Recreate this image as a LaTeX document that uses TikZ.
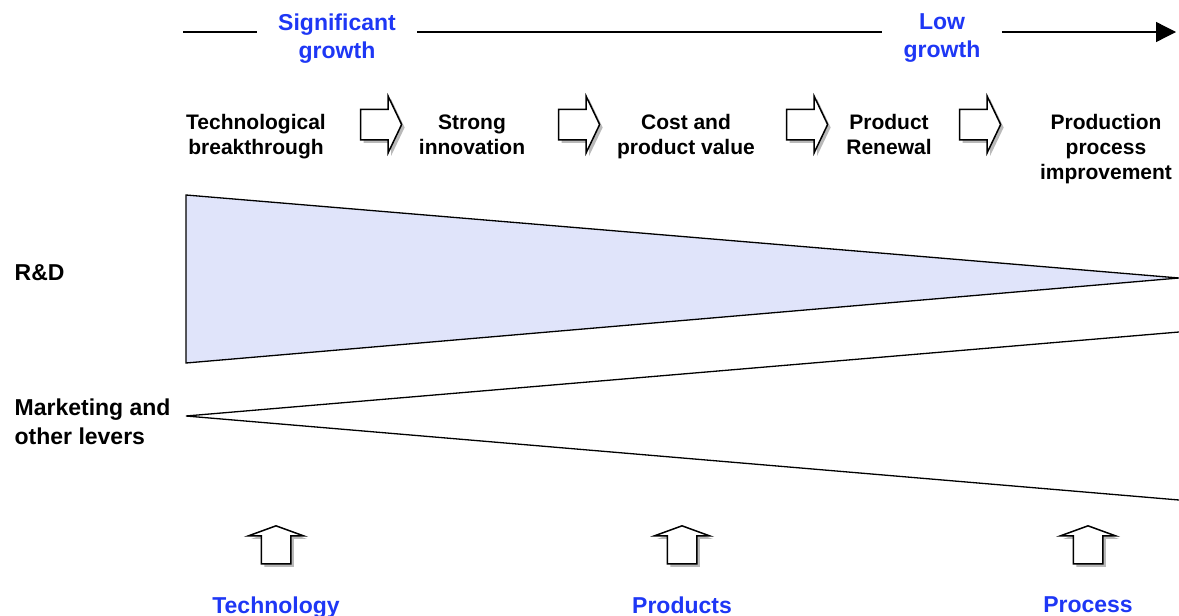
\documentclass[tikz,border=0pt]{standalone}
\usepackage{fontspec}
\setmainfont{Liberation Sans}
\usetikzlibrary{shapes.arrows, shadows, arrows.meta}
\definecolor{levblue}{RGB}{30,55,245}
\definecolor{rdfill}{RGB}{224,228,250}
\tikzset{>={Triangle[length=20pt, width=20pt]}}

\begin{document}
\begin{tikzpicture}[x=1pt, y=-1pt, line width=1.3pt,
  steptext/.style={anchor=north, align=center, inner sep=0pt, font=\fontsize{21}{25}\selectfont\bfseries},
  bluetext/.style={anchor=north, align=center, inner ysep=0pt, inner xsep=21pt, text=levblue, font=\fontsize{23}{28}\selectfont\bfseries},
  sidetext/.style={anchor=north west, align=left, inner sep=0pt, font=\fontsize{23}{29}\selectfont\bfseries},
  blockarrow/.style={single arrow, draw, line width=1.5pt, fill=white,
    single arrow head extend=13pt, drop shadow={shadow xshift=3pt, shadow yshift=-3pt, fill=gray!55, opacity=1}},
  rarrow/.style={blockarrow, inner xsep=0pt, inner ysep=14.5pt, minimum height=41pt, single arrow tip angle=129},
  uarrow/.style={blockarrow, inner xsep=14pt, inner ysep=0pt, minimum height=38pt, single arrow tip angle=140, shape border rotate=90}]
\useasboundingbox (0,0) rectangle (1179,616);

% time line
\coordinate (tl0) at (183,32);
\coordinate (tl1) at (1176,32);
\node[bluetext] (sig) at (337,13) {Significant\\growth};
\node[bluetext] (low) at (942,13) {Low\\growth};
\draw (tl0) -- (tl0 -| sig.west);
\draw (tl0 -| sig.east) -- (tl0 -| low.west);
\draw[->] (tl0 -| low.east) -- (tl1);

% stages
\node[steptext] (s1) at (256,114) {Technological\\breakthrough};
\node[steptext] (s2) at (472,114) {Strong\\innovation};
\node[steptext] (s3) at (686,114) {Cost and\\product value};
\node[steptext] (s4) at (889,114) {Product\\Renewal};
\node[steptext] (s5) at (1106,114) {Production\\process\\improvement};
\node[rarrow] (a1) at (377.5,124.5) {};
\node[rarrow] (a2) at (575.5,124.5) {};
\node[rarrow] (a3) at (803.5,124.5) {};
\node[rarrow] (a4) at (976.5,124.5) {};

% levers
\node[sidetext] (rd) at (14,264) {R\&D};
\node[sidetext] (mk) at (14,398) {Marketing and\\other levers};
\coordinate (rdtop) at (186,195);
\coordinate (rdbot) at (186,363);
\coordinate (rdtip) at (1179,278);
\coordinate (mkapex) at (186,416);
\coordinate (mkup) at (1179,332);
\coordinate (mkdown) at (1179,500);
\draw[fill=rdfill] (rdtop) -- (rdtip) -- (rdbot) -- cycle;
\draw (mkup) -- (mkapex) -- (mkdown);

% drivers
\node[uarrow] (u1) at (276,547.5) {};
\node[uarrow] (u2) at (682,547.5) {};
\node[uarrow] (u3) at (1088,547.5) {};
\node[bluetext, inner xsep=0pt] (tech) at (276,596) {Technology};
\node[bluetext, inner xsep=0pt] (prod) at (682,596) {Products};
\node[bluetext, inner xsep=0pt] (proc) at (1088,596) {Process};
\end{tikzpicture}
\end{document}
